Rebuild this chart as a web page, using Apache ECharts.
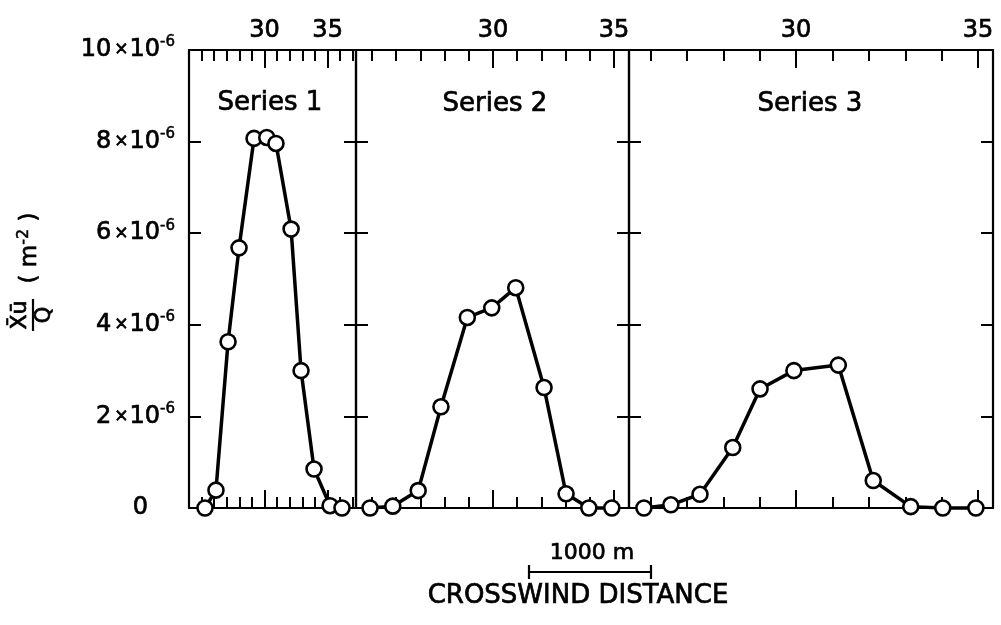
<!DOCTYPE html>
<html><head><meta charset="utf-8">
<script src="https://cdn.jsdelivr.net/npm/echarts@6/dist/echarts.min.js"></script>
<style>html,body{margin:0;padding:0;background:#fff}#c{width:1001px;height:625px}</style>
</head><body><div id="c"></div>
<script>
// ---- data (concentration values in units of 1e-6 m^-2) ----
const panelNames = ['Series 1', 'Series 2', 'Series 3'];
const x1 = [25.27, 26.14, 27.10, 27.97, 29.16, 30.17, 30.90, 32.10, 32.89, 33.92, 35.19, 36.14];
const y1 = [0, 0.39, 3.63, 5.68, 8.07, 8.09, 7.96, 6.09, 3.0, 0.85, 0.05, 0];
const x2 = [24.92, 25.86, 26.91, 27.85, 28.94, 29.95, 30.94, 32.11, 33.02, 33.96, 34.91];
const y2 = [0, 0.04, 0.38, 2.21, 4.16, 4.37, 4.81, 2.63, 0.31, 0, 0];
const x3 = [25.82, 26.56, 27.36, 28.26, 29.01, 29.94, 31.16, 32.12, 33.15, 34.03, 34.94];
const y3 = [0, 0.07, 0.3, 1.32, 2.6, 3.0, 3.12, 0.6, 0.03, 0, 0];
const xMin = [24, 24.34, 25.41];
const xMax = [37.25, 35.62, 35.41];
const minorTicks1 = [25, 26, 27, 28, 29, 30, 31, 32, 33, 34, 35, 36, 37];
const minorTicks2 = [25, 26, 27, 28, 29, 30, 31, 32, 33, 34, 35];
const minorTicks3 = [26, 27, 28, 29, 30, 31, 32, 33, 34, 35];
const majorTicks = [30, 35];
const yTickValues = [0, 2, 4, 6, 8, 10];
const xTitle = 'CROSSWIND DISTANCE';
const scaleLabel = '1000 m';

const XS = [x1, x2, x3], YS = [y1, y2, y3];
const MINOR = [minorTicks1, minorTicks2, minorTicks3];
const FONT = 'DejaVu Sans';
const BLACK = '#000';
const INK = 0.7; // slight text stroke to mimic the heavier printed type

const grids = [
  {left: 189, top: 50, width: 167, height: 458},
  {left: 356, top: 50, width: 273, height: 458},
  {left: 629, top: 50, width: 364, height: 458}
];

const xAxis = [], yAxis = [], series = [];
for (let i = 0; i < 3; i++) {
  const base = {
    type: 'value', gridIndex: i, min: xMin[i], max: xMax[i],
    splitLine: {show: false}, axisLabel: {show: false}
  };
  const lineOn = {show: true, onZero: false, lineStyle: {color: BLACK, width: 2.2}};
  const lineOff = {show: false, onZero: false};
  xAxis.push(Object.assign({}, base, {position: 'bottom', axisLine: lineOn,
    axisTick: {show: true, inside: true, length: 11, customValues: MINOR[i], lineStyle: {color: BLACK, width: 2}}}));
  xAxis.push(Object.assign({}, base, {position: 'bottom', axisLine: lineOff,
    axisTick: {show: true, inside: true, length: 18, customValues: majorTicks, lineStyle: {color: BLACK, width: 2}}}));
  xAxis.push(Object.assign({}, base, {position: 'top', axisLine: lineOn,
    axisTick: {show: true, inside: true, length: 11, customValues: MINOR[i], lineStyle: {color: BLACK, width: 2}},
    axisLabel: {show: true, customValues: majorTicks, margin: 7, color: BLACK, fontFamily: FONT, fontSize: 24,
      textBorderColor: BLACK, textBorderWidth: INK}}));
  xAxis.push(Object.assign({}, base, {position: 'top', axisLine: lineOff,
    axisTick: {show: true, inside: true, length: 18, customValues: majorTicks, lineStyle: {color: BLACK, width: 2}}}));

  const ybase = {
    type: 'value', gridIndex: i, min: 0, max: 10, interval: 2,
    splitLine: {show: false},
    axisLine: {show: true, onZero: false, lineStyle: {color: BLACK, width: 2.2}},
    axisTick: {show: true, inside: true, length: 12, customValues: yTickValues, lineStyle: {color: BLACK, width: 2}}
  };
  yAxis.push(Object.assign({}, ybase, {position: 'left',
    axisLabel: i === 0 ? {
      show: true, margin: 14, color: BLACK, fontFamily: FONT,
      formatter: function (v) {
        if (v === 0) return '{z|0}';
        return '{a|' + v + '}{x|×}{a|10}{s|-6}';
      },
      rich: {
        a: {fontSize: 24, fontFamily: FONT, color: BLACK, lineHeight: 30, textBorderColor: BLACK, textBorderWidth: INK},
        x: {fontSize: 17, fontFamily: FONT, color: BLACK, lineHeight: 30, padding: [0, 1, 0, 3], textBorderColor: BLACK, textBorderWidth: INK},
        s: {fontSize: 15, fontFamily: FONT, color: BLACK, lineHeight: 15, verticalAlign: 'top', textBorderColor: BLACK, textBorderWidth: 0.5},
        z: {fontSize: 24, fontFamily: FONT, color: BLACK, lineHeight: 30, padding: [0, 27, 0, 0], textBorderColor: BLACK, textBorderWidth: INK}
      }
    } : {show: false}}));
  yAxis.push(Object.assign({}, ybase, {position: 'right', axisLabel: {show: false}}));

  series.push({
    type: 'line', xAxisIndex: 4 * i, yAxisIndex: 2 * i,
    data: XS[i].map((x, k) => [x, YS[i][k]]),
    symbol: 'circle', symbolSize: 15, clip: false, z: 10,
    lineStyle: {color: BLACK, width: 3.5},
    itemStyle: {color: '#fff', borderColor: BLACK, borderWidth: 2.6}
  });
}

const txt = (s, size) => ({text: s, font: size + 'px "DejaVu Sans"', fill: BLACK, stroke: BLACK, lineWidth: INK,
  align: 'center', verticalAlign: 'middle'});
const labelPos = [[270, 103], [495, 104], [810, 104]];
const graphic = [];
panelNames.forEach((n, i) => {
  graphic.push({type: 'text', x: labelPos[i][0], y: labelPos[i][1], style: txt(n, 26)});
});
// y-axis title (rotated fraction)
graphic.push({
  type: 'group', x: 30, y: 272, rotation: Math.PI / 2,
  children: [
    {type: 'text', x: -43, y: -10, style: txt('X\u0304u\u0304', 22)},
    {type: 'line', shape: {x1: -59, y1: 3, x2: -27, y2: 3}, style: {stroke: BLACK, lineWidth: 2.2}},
    {type: 'text', x: -43, y: 15, style: txt('Q', 21)},
    {type: 'text', x: 24, y: 0, style: {text: '{a|( m}{s|-2}{a| )}', align: 'center', verticalAlign: 'middle',
      rich: {a: {fontSize: 23, fontFamily: FONT, fill: BLACK, stroke: BLACK, lineWidth: INK, lineHeight: 28},
             s: {fontSize: 16, fontFamily: FONT, fill: BLACK, stroke: BLACK, lineWidth: 0.5, lineHeight: 16, verticalAlign: 'top'}}}}
  ]
});
// scale bar
graphic.push({type: 'line', shape: {x1: 529, y1: 572, x2: 651, y2: 572}, style: {stroke: BLACK, lineWidth: 2.2}});
graphic.push({type: 'line', shape: {x1: 529, y1: 565, x2: 529, y2: 579}, style: {stroke: BLACK, lineWidth: 2.2}});
graphic.push({type: 'line', shape: {x1: 651, y1: 565, x2: 651, y2: 579}, style: {stroke: BLACK, lineWidth: 2.2}});
graphic.push({type: 'text', x: 592, y: 553, style: txt(scaleLabel, 22)});
graphic.push({type: 'text', x: 578, y: 596, style: txt(xTitle, 26)});

const chart = echarts.init(document.getElementById('c'), null, {renderer: 'canvas'});
chart.setOption({
  animation: false,
  backgroundColor: '#fff',
  grid: grids,
  xAxis: xAxis,
  yAxis: yAxis,
  series: series,
  graphic: graphic
});
</script></body></html>
